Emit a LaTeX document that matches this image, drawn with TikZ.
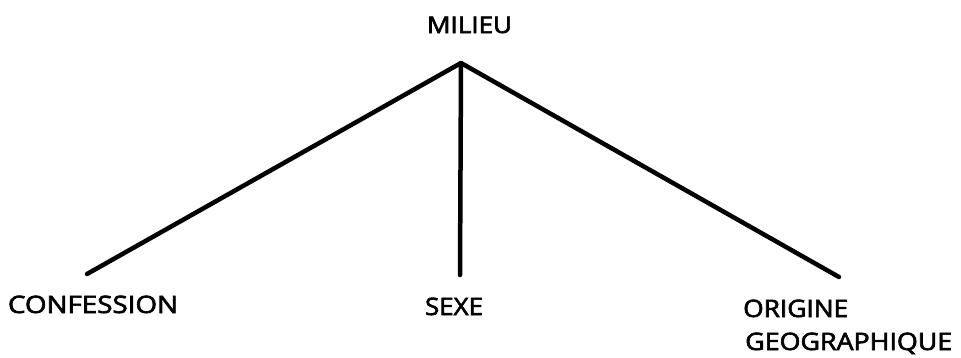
\documentclass[tikz,border=0pt]{standalone}
\usepackage{fontspec}
\setsansfont{Open Sans}[FakeBold=2.5]
\usepackage{graphicx}
\begin{document}
\begin{tikzpicture}[x=1pt,y=-1pt,
  lbl/.style={inner sep=0pt,font=\sffamily\fontsize{24}{26}\selectfont},
  branch/.style={line width=4.5pt,line cap=round,line join=round}]
\useasboundingbox (0,0) rectangle (961,357);
\newcommand{\wtext}[2]{\resizebox{#1pt}{\height}{#2}}
\node[lbl,anchor=base] (milieu) at (469.5,33) {\fontsize{23}{25}\selectfont\wtext{85}{MILIEU}};
\node[lbl,anchor=base] (confession) at (93,313) {\wtext{170}{CONFESSION}};
\node[lbl,anchor=base] (sexe) at (454,315) {\wtext{58}{SEXE}};
\node[lbl,anchor=base west] (origine) at (743,317) {\wtext{105}{ORIGINE}};
\node[lbl,anchor=base west] (geo) at (745,350) {\wtext{207}{GEOGRAPHIQUE}};
\coordinate (apex) at (461,63);
\coordinate (lend) at (87,274);
\coordinate (mend) at (460,275);
\coordinate (rend) at (839,277);
\draw[branch] (lend) -- (apex) -- (rend);
\draw[branch] (apex) -- (mend);
\end{tikzpicture}
\end{document}
